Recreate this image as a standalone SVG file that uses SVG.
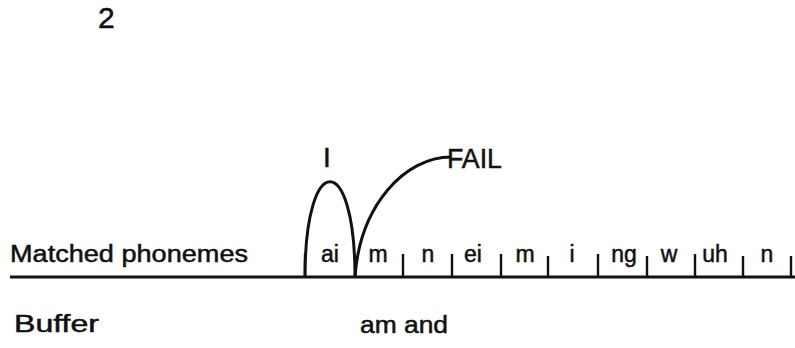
<svg xmlns="http://www.w3.org/2000/svg" width="795" height="348" viewBox="0 0 795 348">
  <style>
    .t { font-family: "Liberation Sans", Arial, sans-serif; fill: #111; stroke: #111; stroke-width: 0.5; }
    .lbl { font-size: 23px; }
    .ph { font-size: 23px; text-anchor: middle; }
    .big { font-size: 28px; }
    .ln { fill: none; stroke: #111; stroke-width: 3; stroke-linecap: butt; }
    .tk { stroke: #111; stroke-width: 2.4; }
  </style>
  <rect width="795" height="348" fill="#fff"/>
  <text id="page-number" class="t" x="98" y="28" font-size="30">2</text>
  <g id="row-labels">
    <text class="t lbl" x="10" y="262" textLength="238" lengthAdjust="spacingAndGlyphs">Matched phonemes</text>
    <text class="t lbl" x="14" y="332" textLength="85" lengthAdjust="spacingAndGlyphs">Buffer</text>
    <text class="t lbl" x="360" y="333" textLength="88" lengthAdjust="spacingAndGlyphs">am and</text>
  </g>
  <g id="timeline">
    <line class="ln" x1="10" y1="277" x2="795" y2="277"/>
    <g id="ticks">
      <line class="tk" x1="305" y1="254" x2="305" y2="277"/>
      <line class="tk" x1="403" y1="254" x2="403" y2="277"/>
      <line class="tk" x1="452" y1="254" x2="452" y2="277"/>
      <line class="tk" x1="501" y1="254" x2="501" y2="277"/>
      <line class="tk" x1="548" y1="256" x2="548" y2="277"/>
      <line class="tk" x1="598" y1="254" x2="598" y2="277"/>
      <line class="tk" x1="647" y1="256" x2="647" y2="277"/>
      <line class="tk" x1="695" y1="254" x2="695" y2="277"/>
      <line class="tk" x1="743" y1="256" x2="743" y2="277"/>
      <line class="tk" x1="791" y1="256" x2="791" y2="277"/>
    </g>
  </g>
  <g id="phonemes">
    <text class="t ph" x="330" y="262">ai</text>
    <text class="t ph" x="378" y="262">m</text>
    <text class="t ph" x="428" y="262">n</text>
    <text class="t ph" x="473" y="262">ei</text>
    <text class="t ph" x="525" y="262">m</text>
    <text class="t ph" x="572" y="262">i</text>
    <text class="t ph" x="624" y="262">ng</text>
    <text class="t ph" x="669" y="262">w</text>
    <text class="t ph" x="715" y="262">uh</text>
    <text class="t ph" x="767" y="262">n</text>
  </g>
  <g id="node-I">
    <text class="t big" x="327" y="167" text-anchor="middle">I</text>
  </g>
  <g id="node-FAIL">
    <text class="t big" x="447" y="168" textLength="55" lengthAdjust="spacingAndGlyphs">FAIL</text>
  </g>
  <g id="connectors">
    <path class="ln" d="M305,277 C305,150 355,150 355,277"/>
    <path class="ln" d="M355,277 C360,205 405,157 451,157"/>
  </g>
</svg>
